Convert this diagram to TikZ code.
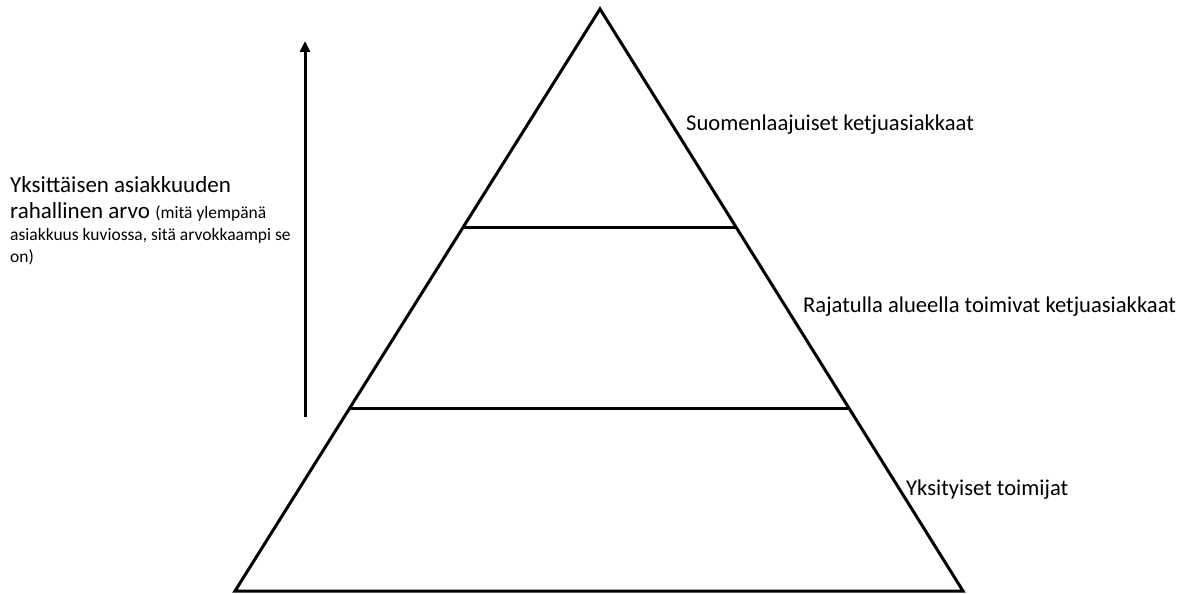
\documentclass[tikz,border=0pt]{standalone}
\usepackage{fontspec}
\setmainfont{Carlito}
\usetikzlibrary{calc,arrows.meta}
\begin{document}
\begin{tikzpicture}[x=1pt,y=-1pt,
  edge/.style={line width=3pt,line join=miter},
  lbl/.style={anchor=base west,inner sep=0pt,font=\fontsize{22.6}{26}\selectfont},
  big/.style={lbl,font=\fontsize{23}{27}\selectfont},
  small/.style={lbl,font=\fontsize{17.5}{21}\selectfont}]
\useasboundingbox (0,0) rectangle (1195,594);
\coordinate (apex) at (600,9);
\coordinate (bl) at (235,591);
\coordinate (br) at (963,591);
\draw[edge] (apex) -- (br) -- (bl) -- cycle;
\coordinate (l1) at ($(apex)!0.3746!(bl)$);
\coordinate (r1) at ($(apex)!0.3746!(br)$);
\coordinate (l2) at ($(apex)!0.6856!(bl)$);
\coordinate (r2) at ($(apex)!0.6856!(br)$);
\draw[edge] (l1) -- (r1);
\draw[edge] (l2) -- (r2);
\coordinate (abot) at (305,417);
\coordinate (atop) at (305,41);
\draw[line width=3pt,-{Triangle[width=10pt,length=11pt]}] (abot) -- (atop);
\node[lbl] (t1) at (686,130) {Suomenlaajuiset ketjuasiakkaat};
\node[lbl] (t2) at (803,312) {Rajatulla alueella toimivat ketjuasiakkaat};
\node[lbl] (t3) at (906,495) {Yksityiset toimijat};
\node[big] (y1) at (10,192) {Yksittäisen asiakkuuden};
\node[big] (y2) at (10,218) {rahallinen arvo \fontsize{17.5}{21}\selectfont(mitä ylempänä};
\node[small] (y3) at (10,240) {asiakkuus kuviossa, sitä arvokkaampi se};
\node[small] (y4) at (10,262) {on)};
\end{tikzpicture}
\end{document}
